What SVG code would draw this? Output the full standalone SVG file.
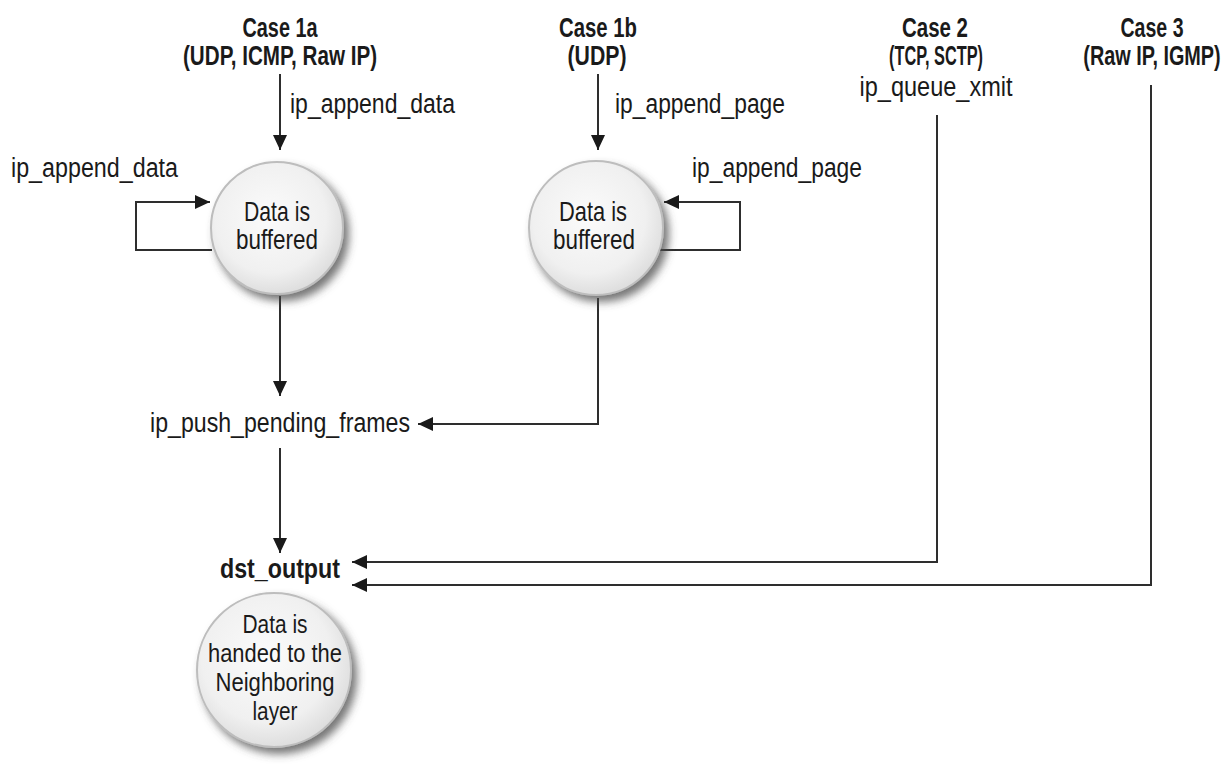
<svg xmlns="http://www.w3.org/2000/svg" width="1227" height="765" viewBox="0 0 1227 765">
  <style>
    .t { font-family: "Liberation Sans", Arial, sans-serif; fill: #1a1a1a; font-size: 27px; }
    .b { font-weight: bold; font-size: 27px; }
    .c { font-size: 28px; }
    .s { font-size: 26px; }
    .m { text-anchor: middle; }
    .ln { fill: none; stroke: #2e2e2e; stroke-width: 2; }
    .node { fill: url(#g); stroke: #bdbdbd; stroke-width: 2; filter: url(#sh); }
  </style>
  <defs>
    <radialGradient id="g" cx="0.45" cy="0.42" r="0.6">
      <stop offset="0" stop-color="#fbfbfb"/>
      <stop offset="0.7" stop-color="#f0f0f0"/>
      <stop offset="1" stop-color="#dcdcdc"/>
    </radialGradient>
    <filter id="sh" x="-30%" y="-30%" width="160%" height="160%">
      <feDropShadow dx="5" dy="6" stdDeviation="4" flood-color="#4a4a4a" flood-opacity="0.75"/>
    </filter>
    <marker id="ah" markerUnits="userSpaceOnUse" markerWidth="16" markerHeight="14" refX="15" refY="7" orient="auto">
      <path d="M0,0 L15,7 L0,14 Z" fill="#1a1a1a"/>
    </marker>
  </defs>
  <rect width="1227" height="765" fill="#ffffff"/>

  <g id="connectors">
    <path class="ln" d="M280 74 V150" marker-end="url(#ah)"/>
    <path class="ln" d="M598 74 V150" marker-end="url(#ah)"/>
    <path class="ln" d="M212 250 H136 V202 H210" marker-end="url(#ah)"/>
    <path class="ln" d="M660 250 H740 V202 H664" marker-end="url(#ah)"/>
    <path class="ln" d="M280 296 V396" marker-end="url(#ah)"/>
    <path class="ln" d="M598 298 V424 H418" marker-end="url(#ah)"/>
    <path class="ln" d="M280 448 V553" marker-end="url(#ah)"/>
    <path class="ln" d="M937 115 V562 H352" marker-end="url(#ah)"/>
    <path class="ln" d="M1151 85 V585 H352" marker-end="url(#ah)"/>
  </g>

  <g id="case1a">
    <text class="t b m" x="280" y="37" textLength="75" lengthAdjust="spacingAndGlyphs">Case 1a</text>
    <text class="t b m" x="280" y="65" textLength="194" lengthAdjust="spacingAndGlyphs">(UDP, ICMP, Raw IP)</text>
  </g>
  <g id="case1b">
    <text class="t b m" x="598" y="37" textLength="78" lengthAdjust="spacingAndGlyphs">Case 1b</text>
    <text class="t b m" x="597" y="65" textLength="59" lengthAdjust="spacingAndGlyphs">(UDP)</text>
  </g>
  <g id="case2">
    <text class="t b m" x="935" y="37" textLength="66" lengthAdjust="spacingAndGlyphs">Case 2</text>
    <text class="t b m" x="936" y="65" textLength="94" lengthAdjust="spacingAndGlyphs">(TCP, SCTP)</text>
    <text class="t m" x="936" y="96" textLength="153" lengthAdjust="spacingAndGlyphs">ip_queue_xmit</text>
  </g>
  <g id="case3">
    <text class="t b m" x="1152" y="37" textLength="63" lengthAdjust="spacingAndGlyphs">Case 3</text>
    <text class="t b m" transform="translate(1152,65) scale(0.735,1)" x="0" y="0">(Raw IP, IGMP)</text>
  </g>

  <g id="labels">
    <text class="t" x="290" y="113" textLength="165" lengthAdjust="spacingAndGlyphs">ip_append_data</text>
    <text class="t" x="11" y="177" textLength="167" lengthAdjust="spacingAndGlyphs">ip_append_data</text>
    <text class="t" x="615" y="113" textLength="170" lengthAdjust="spacingAndGlyphs">ip_append_page</text>
    <text class="t" x="692" y="177" textLength="170" lengthAdjust="spacingAndGlyphs">ip_append_page</text>
  </g>

  <g id="buffer1a">
    <circle class="node" cx="277" cy="228" r="66"/>
    <text class="t c m" x="277" y="221" textLength="66" lengthAdjust="spacingAndGlyphs">Data is</text>
    <text class="t c m" x="277" y="249" textLength="82" lengthAdjust="spacingAndGlyphs">buffered</text>
  </g>
  <g id="buffer1b">
    <circle class="node" cx="596" cy="228" r="67"/>
    <text class="t c m" x="593" y="221" textLength="68" lengthAdjust="spacingAndGlyphs">Data is</text>
    <text class="t c m" x="594" y="249" textLength="82" lengthAdjust="spacingAndGlyphs">buffered</text>
  </g>

  <g id="push">
    <text class="t" x="150" y="432" textLength="260" lengthAdjust="spacingAndGlyphs">ip_push_pending_frames</text>
  </g>
  <g id="dst">
    <text class="t b m" x="280" y="578" textLength="120" lengthAdjust="spacingAndGlyphs">dst_output</text>
  </g>
  <g id="neighbor">
    <circle class="node" cx="274" cy="670" r="77"/>
    <text class="t s m" x="275" y="633" textLength="65" lengthAdjust="spacingAndGlyphs">Data is</text>
    <text class="t s m" x="275" y="662" textLength="134" lengthAdjust="spacingAndGlyphs">handed to the</text>
    <text class="t s m" x="275" y="691" textLength="119" lengthAdjust="spacingAndGlyphs">Neighboring</text>
    <text class="t s m" x="275" y="720" textLength="45" lengthAdjust="spacingAndGlyphs">layer</text>
  </g>
</svg>
